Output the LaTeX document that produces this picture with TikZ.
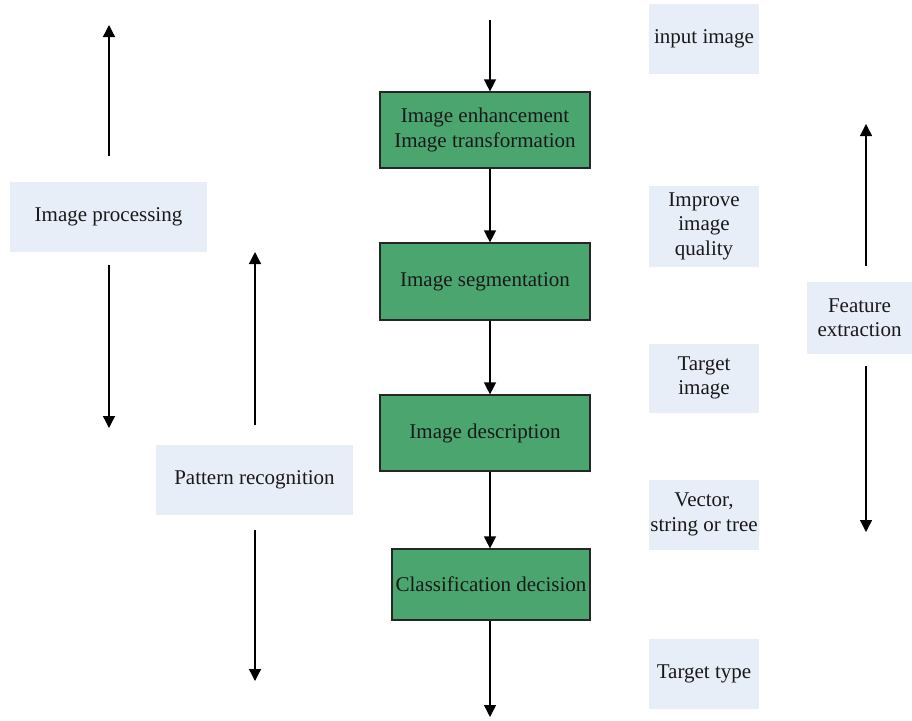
\documentclass[tikz,border=0pt]{standalone}
\usepackage{fontspec}
\setmainfont{Liberation Serif}
\usetikzlibrary{arrows.meta}
\definecolor{boxgreen}{RGB}{74,166,110}
\definecolor{lightbox}{RGB}{232,238,248}
\begin{document}
\begin{tikzpicture}[x=1pt,y=-1pt,
  font=\fontsize{21}{24.5}\selectfont,
  greenbox/.style={draw=black!85,line width=1.2pt,fill=boxgreen,minimum width=210pt,align=center,inner sep=0pt,text=black!90},
  labbox/.style={fill=lightbox,align=center,inner sep=0pt,text=black!90},
  arr/.style={line width=1.3pt,-{Triangle[width=12pt,length=12pt]}}]
\useasboundingbox (0,0) rectangle (912,720);
% green boxes
\node[greenbox,minimum height=76pt] (b1) at (485,130) {Image enhancement\\Image transformation};
\node[greenbox,minimum height=77pt] (b2) at (485,281.5) {Image segmentation};
\node[greenbox,minimum height=76pt] (b3) at (485,433) {Image description};
\node[greenbox,minimum width=198pt,minimum height=71pt] (b4) at (491,584.5) {Classification decision};
% light boxes right
\node[labbox,minimum width=110pt,minimum height=70pt] (l1) at (704,38.5) {input image};
\node[labbox,minimum width=110pt,minimum height=81pt] (l2) at (704,226) {Improve\\image\\quality};
\node[labbox,minimum width=110pt,minimum height=69pt] (l3) at (704,378) {Target\\image};
\node[labbox,minimum width=110pt,minimum height=70pt] (l4) at (704,514.5) {Vector,\\string or tree};
\node[labbox,minimum width=110pt,minimum height=70pt] (l5) at (704,673.5) {Target type};
\node[labbox,minimum width=105pt,minimum height=72pt] (fe) at (859.5,317.5) {Feature\\extraction};
\node[labbox,minimum width=197pt,minimum height=70pt] (ip) at (108.5,216.5) {Image processing};
\node[labbox,minimum width=197pt,minimum height=70pt] (pr) at (254.5,479.5) {Pattern recognition};
% coordinates
\coordinate (top) at (490,20);
\coordinate (bot) at (490,717);
\coordinate (ipu1) at (109,156);
\coordinate (ipu2) at (109,25);
\coordinate (ipd1) at (109,265);
\coordinate (ipd2) at (109,428);
\coordinate (pru1) at (255,425);
\coordinate (pru2) at (255,252);
\coordinate (prd1) at (255,530);
\coordinate (prd2) at (255,681);
\coordinate (feu1) at (866,266);
\coordinate (feu2) at (866,124);
\coordinate (fed1) at (866,366);
\coordinate (fed2) at (866,532);
% central arrows
\draw[arr] (top) -- (top|-b1.north);
\draw[arr] (b1.south-|top) -- (top|-b2.north);
\draw[arr] (b2.south-|top) -- (top|-b3.north);
\draw[arr] (b3.south-|top) -- (top|-b4.north);
\draw[arr] (b4.south-|top) -- (bot);
% side arrows
\draw[arr] (ipu1) -- (ipu2);
\draw[arr] (ipd1) -- (ipd2);
\draw[arr] (pru1) -- (pru2);
\draw[arr] (prd1) -- (prd2);
\draw[arr] (feu1) -- (feu2);
\draw[arr] (fed1) -- (fed2);
\end{tikzpicture}
\end{document}
